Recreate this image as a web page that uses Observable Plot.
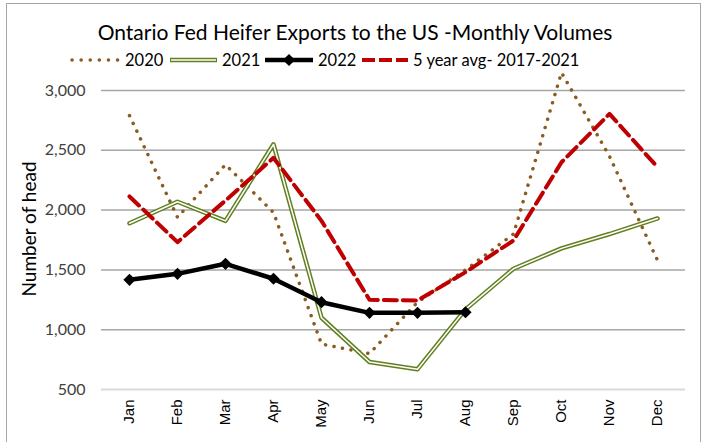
<!DOCTYPE html>
<html><head><meta charset="utf-8">
<script src="https://cdn.jsdelivr.net/npm/d3@7"></script>
<script src="https://cdn.jsdelivr.net/npm/@observablehq/plot@0.6"></script>
<style>
body{margin:0;background:#fff;}
#wrap{position:relative;width:707px;height:442px;overflow:hidden;font-family:Lato,"Open Sans",sans-serif;}
#frame{position:absolute;left:6px;top:3px;width:695px;height:470px;border:1.5px solid #a6a6a6;box-sizing:border-box;}
#title{position:absolute;left:0;width:710px;top:19px;text-align:center;font-size:21px;line-height:26px;color:#000;}
#legend{position:absolute;left:0;top:48px;}
#ylab{position:absolute;left:28px;top:229px;transform:translate(-50%,-50%) rotate(-90deg);white-space:nowrap;font-size:19px;color:#000;}
#chart{position:absolute;left:0;top:70px;}
</style></head><body>
<div id="wrap"><div id="frame"></div><div id="title">Ontario Fed Heifer Exports to the US -Monthly Volumes</div><svg id="legend" width="707" height="24"></svg><div id="chart"></div><div id="ylab">Number of head</div></div>
<script>
const months = ["Jan","Feb","Mar","Apr","May","Jun","Jul","Aug","Sep","Oct","Nov","Dec"];
const v2020 = [2790,1940,2380,1980,880,800,1230,1500,1800,3150,2450,1580];
const v2021 = [1890,2070,1910,2550,1100,730,670,1170,1510,1680,1800,1930];
const v2022 = [1417,1467,1551,1426,1230,1141,1141,1146];
const vAvg = [2114,1732,2080,2437,1910,1250,1244,1481,1746,2400,2805,2359];
const yTicks = [500,1000,1500,2000,2500,3000];
const seriesNames = ["2020","2021","2022","5 year avg- 2017-2021"];

const toRows = vals => vals.map((v,i)=>({month:months[i], value:v}));
const d2020 = toRows(v2020), d2021 = toRows(v2021), d2022 = toRows(v2022), dAvg = toRows(vAvg);

const GREEN = "#617f1f", BROWN = "#8c5b22", RED = "#c00000";

const chart = Plot.plot({
  width: 707, height: 371,
  marginLeft: 101, marginRight: 22, marginTop: 20, marginBottom: 52,
  style: {fontFamily: "Lato, 'Open Sans', sans-serif", background: "transparent"},
  x: {type: "point", domain: months, padding: 0.5},
  y: {domain: [500, 3000]},
  marks: [
    Plot.ruleY(yTicks.filter(t => t > 500), {stroke: "#a6a6a6", strokeWidth: 1.5}),
    Plot.ruleY([500], {stroke: "#d9d9d9", strokeWidth: 2}),
    Plot.axisY({ticks: yTicks, tickSize: 0, tickPadding: 16, tickFormat: d3.format(","), fontSize: 16, fill: "#404040", label: null}),
    Plot.axisX({tickRotate: -90, tickSize: 0, tickPadding: 10, fontSize: 15, fontFamily: "'Liberation Sans', Arial, sans-serif", fill: "#000", label: null}),
    Plot.line(d2020, {x: "month", y: "value", stroke: BROWN, strokeWidth: 3.5, strokeDasharray: "0.1 8.5", strokeLinecap: "round"}),
    Plot.line(d2021, {x: "month", y: "value", stroke: GREEN, strokeWidth: 4.5}),
    Plot.line(d2021, {x: "month", y: "value", stroke: "white", strokeWidth: 1.5}),
    Plot.line(d2022, {x: "month", y: "value", stroke: "black", strokeWidth: 4.5}),
    Plot.dot(d2022, {x: "month", y: "value", symbol: "diamond2", r: 5.5, fill: "black"}),
    Plot.line(dAvg, {x: "month", y: "value", stroke: RED, strokeWidth: 4, strokeDasharray: "13 6"})
  ]
});
document.getElementById("chart").appendChild(chart);

// legend
const lg = d3.select("#legend");
const ly = 12;
const items = [
  {x0: 72, x1: 120, tx: 125, name: seriesNames[0]},
  {x0: 170, x1: 217, tx: 222, name: seriesNames[1]},
  {x0: 265, x1: 313, tx: 318, name: seriesNames[2]},
  {x0: 362, x1: 408, tx: 413, name: seriesNames[3]}
];
lg.append("line").attr("x1", items[0].x0).attr("x2", items[0].x1).attr("y1", ly).attr("y2", ly)
  .attr("stroke", BROWN).attr("stroke-width", 3.5).attr("stroke-dasharray", "0.1 9").attr("stroke-linecap", "round");
lg.append("line").attr("x1", items[1].x0).attr("x2", items[1].x1).attr("y1", ly).attr("y2", ly)
  .attr("stroke", GREEN).attr("stroke-width", 4.5);
lg.append("line").attr("x1", items[1].x0+1).attr("x2", items[1].x1-1).attr("y1", ly).attr("y2", ly)
  .attr("stroke", "white").attr("stroke-width", 1.5);
lg.append("line").attr("x1", items[2].x0).attr("x2", items[2].x1).attr("y1", ly).attr("y2", ly)
  .attr("stroke", "black").attr("stroke-width", 4.5);
lg.append("path").attr("transform", `translate(${(items[2].x0+items[2].x1)/2},${ly})`)
  .attr("d", d3.symbol(d3.symbolDiamond2, 95)()).attr("fill", "black");
lg.append("line").attr("x1", items[3].x0).attr("x2", items[3].x1).attr("y1", ly).attr("y2", ly)
  .attr("stroke", RED).attr("stroke-width", 4).attr("stroke-dasharray", "13 4");
items.forEach(it => lg.append("text").attr("x", it.tx).attr("y", ly).attr("dy", "0.35em")
  .attr("font-size", 16.5).attr("font-family", "Lato, 'Open Sans', sans-serif").attr("fill", "#000").text(it.name));
</script>
</body></html>
